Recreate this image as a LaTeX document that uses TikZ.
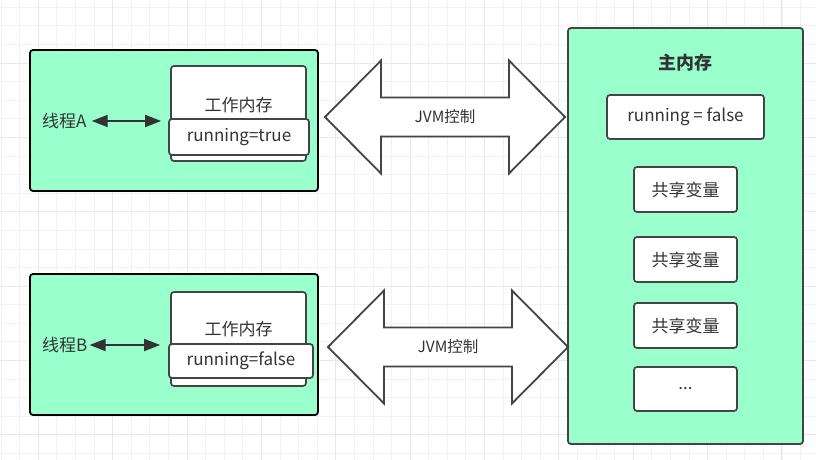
\documentclass[tikz,border=0pt]{standalone}
\usepackage{fontspec}
\setmainfont{Noto Sans CJK SC}
\usetikzlibrary{arrows.meta}
\definecolor{mint}{HTML}{99FFCC}
\definecolor{ink}{HTML}{333333}
\definecolor{edge}{HTML}{444444}
\begin{document}
\begin{tikzpicture}
  [x=1pt,y=-1pt,text=ink,font=\fontsize{17}{20}\selectfont,
   thread/.style={draw=black,fill=mint,line width=1.8pt,rounded corners=3pt},
   store/.style={draw=edge,fill=mint,line width=1.8pt,rounded corners=3pt},
   cell/.style={draw=edge,fill=white,line width=1.7pt,rounded corners=3pt,inner sep=0pt},
   bigarrow/.style={draw=edge,fill=white,line width=1.8pt},
   link/.style={draw=ink,line width=1.8pt,{Triangle[length=16pt,width=12pt]}-{Triangle[length=16pt,width=12pt]}},
   gridminor/.style={draw=black!5,line width=0.8pt},
   gridmajor/.style={draw=black!9,line width=0.8pt}]
  \useasboundingbox (0,0) rectangle (816,460);
  \fill[white] (0,0) rectangle (816,460);
  % background grid
  \foreach \i in {-2,...,42} \draw[gridminor] ({38.3+18.59*\i},0) -- ({38.3+18.59*\i},460);
  \foreach \i in {-3,...,21} \draw[gridminor] (0,{63+18.59*\i}) -- (816,{63+18.59*\i});
  \foreach \i in {0,...,10} \draw[gridmajor] ({38.3+74.35*\i},0) -- ({38.3+74.35*\i},460);
  \foreach \i in {-1,...,6} \draw[gridmajor] (0,{63+74.35*\i}) -- (816,{63+74.35*\i});

  \node[thread,minimum width=288,minimum height=141] (thA) at (174,120.5) {};
  \node[thread,minimum width=288,minimum height=141] (thB) at (174,344.5) {};

  \node[cell,minimum width=135,minimum height=95] (wA) at (238.5,113.5) {};
  \node (wtA) at (238.5,105) {工作内存};
  \node[cell,minimum width=140,minimum height=36] (rA) at (239,137) {running=true};
  \node[cell,minimum width=135,minimum height=94] (wB) at (238.5,339) {};
  \node (wtB) at (238.5,329) {工作内存};
  \node[cell,minimum width=144,minimum height=34] (rB) at (241,361) {running=false};

  \node[anchor=west,inner sep=2pt] (tA) at (40,121) {线程A};
  \node[anchor=west,inner sep=2pt] (tB) at (40,345) {线程B};
  \draw[link,shorten <=3pt,shorten >=7pt] (tA.east) -- (rA.west |- tA.east);
  \draw[link,shorten <=0pt,shorten >=8pt] (tB.east) -- (rB.west |- tB.east);

  \node[store,minimum width=235,minimum height=416] (mm) at (685.5,236) {};
  \node[font=\fontsize{18}{21}\selectfont\bfseries] (mt) at (685.5,63) {主内存};
  \node[cell,minimum width=157,minimum height=44] (rm) at (685.5,117) {running = false};
  \node[cell,minimum width=103,minimum height=45] (v1) at (685.5,189.5) {共享变量};
  \node[cell,minimum width=103,minimum height=45] (v2) at (685.5,259.5) {共享变量};
  \node[cell,minimum width=103,minimum height=45] (v3) at (685.5,325.5) {共享变量};
  \node[cell,minimum width=103,minimum height=44] (v4) at (685.5,389) {...};

  \foreach \n/\y/\l/\r in {jA/117/325/565,jB/347/328/568}{
    \draw[bigarrow] (\l,\y) -- ({\l+56},{\y-56.5}) -- ({\l+56},{\y-19.5})
      -- ({\r-56},{\y-19.5}) -- ({\r-56},{\y-56.5}) -- (\r,\y)
      -- ({\r-56},{\y+56.5}) -- ({\r-56},{\y+19.5}) -- ({\l+56},{\y+19.5})
      -- ({\l+56},{\y+56.5}) -- cycle;
    \node[font=\fontsize{15.5}{18}\selectfont] (\n) at ({(\l+\r)/2},\y) {JVM控制};
  }
\end{tikzpicture}
\end{document}
